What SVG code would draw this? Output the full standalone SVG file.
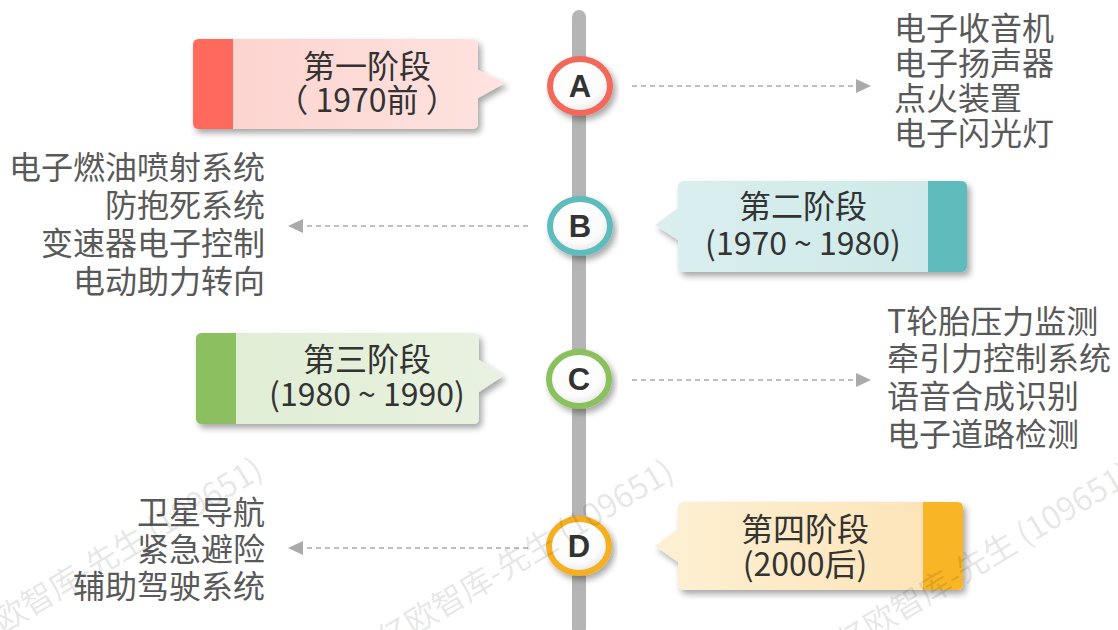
<svg xmlns="http://www.w3.org/2000/svg" width="1118" height="630" viewBox="0 0 1118 630">
<style>
.t{font-family:"Noto Sans CJK SC","Noto Sans",sans-serif;}
.box{font-size:32px;fill:#333;text-anchor:middle;}
.side{font-size:32px;fill:#595959;}
.end{text-anchor:end;}
.ltr{font-family:"Liberation Sans","DejaVu Sans",sans-serif;font-size:31px;font-weight:bold;fill:#333;text-anchor:middle;}
.dash{stroke:#aaa;stroke-width:1.5;stroke-dasharray:5 4;fill:none;}
.ah{fill:#aaa;}
.wm{font-family:"Noto Sans CJK SC",sans-serif;font-size:32px;fill:#000;fill-opacity:0.11;}
</style>
<defs>
<filter id="sh" x="-10%" y="-20%" width="125%" height="150%">
<feDropShadow dx="3" dy="4" stdDeviation="3" flood-color="#000" flood-opacity="0.35"/>
</filter>
<radialGradient id="cw" cx="45%" cy="40%" r="60%"><stop offset="0" stop-color="#fff"/><stop offset="0.7" stop-color="#fcfcfc"/><stop offset="1" stop-color="#e6e6e6"/></radialGradient>
<linearGradient id="ga" x1="0" x2="1"><stop offset="0" stop-color="#fcd2cd"/><stop offset="1" stop-color="#fee3e0"/></linearGradient>
<linearGradient id="gb" x1="0" x2="1"><stop offset="0" stop-color="#dbefef"/><stop offset="1" stop-color="#cce8e8"/></linearGradient>
<linearGradient id="gc" x1="0" x2="1"><stop offset="0" stop-color="#dfedd3"/><stop offset="1" stop-color="#e9f2e1"/></linearGradient>
<linearGradient id="gd" x1="0" x2="1"><stop offset="0" stop-color="#fdf0d4"/><stop offset="1" stop-color="#fde3b5"/></linearGradient>
</defs>
<rect width="1118" height="630" fill="#fff"/>
<rect id="axis" x="572" y="10" width="14" height="625" rx="7" fill="#b5b5b5"/>

<g id="connectors">
<line class="dash" x1="632" y1="86" x2="858" y2="86"/>
<polygon class="ah" points="871,86 856,79 856,93"/>
<line class="dash" x1="528" y1="226" x2="302" y2="226"/>
<polygon class="ah" points="288,226 303,219 303,233"/>
<line class="dash" x1="632" y1="380" x2="858" y2="380"/>
<polygon class="ah" points="871,380 856,373 856,387"/>
<line class="dash" x1="528" y1="548" x2="302" y2="548"/>
<polygon class="ah" points="288,548 303,541 303,555"/>
</g>

<g id="stage1">
<g filter="url(#sh)">
<path d="M199,39 H472 Q478,39 478,45 V70 L505,83 L478,98 V123 Q478,129 472,129 H199 Q193,129 193,123 V45 Q193,39 199,39 Z" fill="url(#ga)"/>
<path d="M199,39 H233 V129 H199 Q193,129 193,123 V45 Q193,39 199,39 Z" fill="#ff6b5b"/>
</g>
<text class="t box" x="367" y="78">第一阶段</text>
<text class="t box" x="367" y="112">（ 1970前 ）</text>
</g>

<g id="stage2">
<g filter="url(#sh)">
<path d="M684,181 H961 Q967,181 967,187 V266 Q967,272 961,272 H684 Q678,272 678,266 V240 L655,225 L678,208 V187 Q678,181 684,181 Z" fill="url(#gb)"/>
<path d="M928,181 H961 Q967,181 967,187 V266 Q967,272 961,272 H928 Z" fill="#61bcbc"/>
</g>
<text class="t box" x="803" y="218">第二阶段</text>
<text class="t box" x="803" y="255">(1970 ~ 1980)</text>
</g>

<g id="stage3">
<g filter="url(#sh)">
<path d="M202,333 H473 Q479,333 479,339 V360 L503,376 L479,392 V418 Q479,424 473,424 H202 Q196,424 196,418 V339 Q196,333 202,333 Z" fill="url(#gc)"/>
<path d="M202,333 H236 V424 H202 Q196,424 196,418 V339 Q196,333 202,333 Z" fill="#8bbf5f"/>
</g>
<text class="t box" x="367" y="371">第三阶段</text>
<text class="t box" x="367" y="406">(1980 ~ 1990)</text>
</g>

<g id="stage4">
<g filter="url(#sh)">
<path d="M684,502 H957 Q963,502 963,508 V584 Q963,590 957,590 H684 Q678,590 678,584 V562 L655,546 L678,529 V508 Q678,502 684,502 Z" fill="url(#gd)"/>
<path d="M923,502 H957 Q963,502 963,508 V584 Q963,590 957,590 H923 Z" fill="#f8b526"/>
</g>
<text class="t box" x="805" y="541">第四阶段</text>
<text class="t box" x="805" y="576">(2000后)</text>
</g>

<g id="nodeA">
<ellipse cx="580" cy="86" rx="30" ry="27" fill="url(#cw)" stroke="#f2685a" stroke-width="6" filter="url(#sh)"/>
<text class="ltr" x="580" y="97">A</text>
</g>
<g id="nodeB">
<ellipse cx="580" cy="226" rx="30" ry="27" fill="url(#cw)" stroke="#5fbcbc" stroke-width="6" filter="url(#sh)"/>
<text class="ltr" x="580" y="237">B</text>
</g>
<g id="nodeC">
<ellipse cx="579" cy="379" rx="30" ry="27" fill="url(#cw)" stroke="#8bc15b" stroke-width="6" filter="url(#sh)"/>
<text class="ltr" x="579" y="390">C</text>
</g>
<g id="nodeD">
<ellipse cx="579" cy="546" rx="30" ry="27" fill="url(#cw)" stroke="#f5b021" stroke-width="6" filter="url(#sh)"/>
<text class="ltr" x="579" y="557">D</text>
</g>

<g id="listA">
<text class="t side" x="894" y="40">电子收音机</text>
<text class="t side" x="894" y="75">电子扬声器</text>
<text class="t side" x="894" y="110">点火装置</text>
<text class="t side" x="894" y="145">电子闪光灯</text>
</g>
<g id="listB">
<text class="t side end" x="265" y="179">电子燃油喷射系统</text>
<text class="t side end" x="265" y="217">防抱死系统</text>
<text class="t side end" x="265" y="255">变速器电子控制</text>
<text class="t side end" x="265" y="293">电动助力转向</text>
</g>
<g id="listC">
<text class="t side" x="887" y="333">T轮胎压力监测</text>
<text class="t side" x="887" y="370">牵引力控制系统</text>
<text class="t side" x="887" y="408">语音合成识别</text>
<text class="t side" x="887" y="446">电子道路检测</text>
</g>
<g id="listD">
<text class="t side end" x="265" y="524">卫星导航</text>
<text class="t side end" x="265" y="561">紧急避险</text>
<text class="t side end" x="265" y="598">辅助驾驶系统</text>
</g>

<g id="watermarks">
<text class="wm" transform="translate(-25,650) rotate(-31)">亿欧智库-先生 (109651)</text>
<text class="wm" transform="translate(386,652) rotate(-31)">亿欧智库-先生 (109651)</text>
<text class="wm" transform="translate(845,655) rotate(-31)">亿欧智库-先生 (109651)</text>
</g>
</svg>
